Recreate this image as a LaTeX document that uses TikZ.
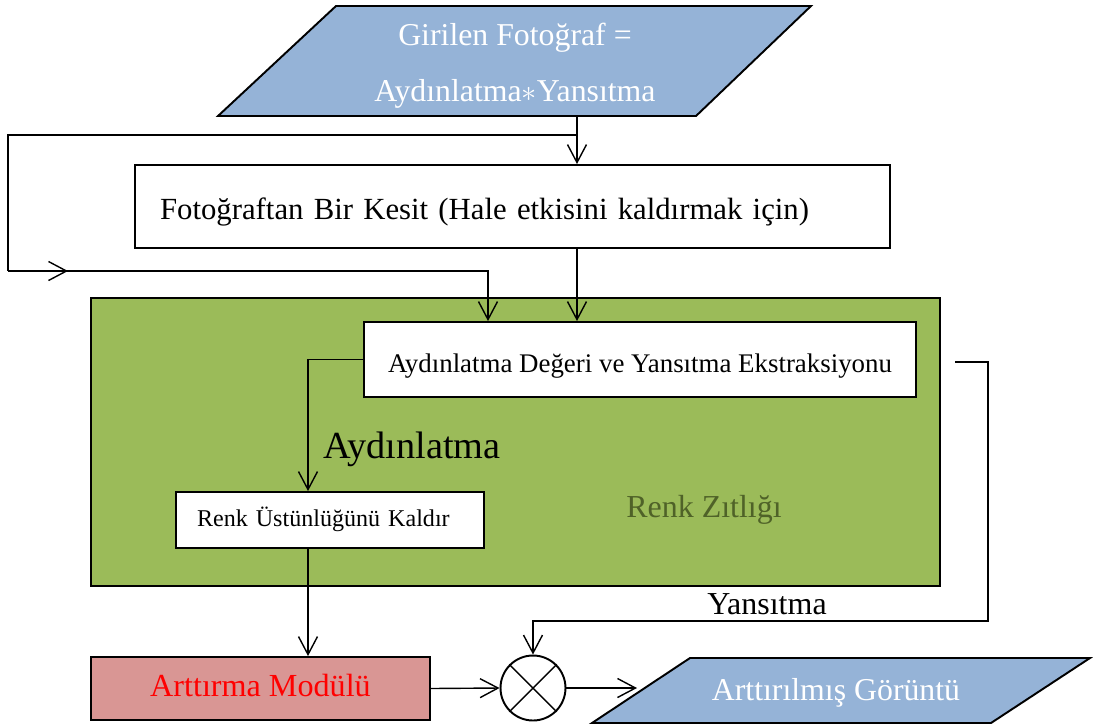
\documentclass[tikz,border=0pt]{standalone}
\usepackage{fontspec}
\setmainfont{Liberation Serif}
\usepackage{xcolor}
\usetikzlibrary{arrows.meta, positioning, shapes.geometric}
\definecolor{mavi}{HTML}{95B3D7}
\definecolor{yesil}{HTML}{9BBB59}
\definecolor{pembe}{HTML}{D99694}
\definecolor{koyuyesil}{HTML}{4F6228}
\tikzset{
  kutu/.style={draw, line width=1.1pt, fill=white, inner sep=0pt, text depth=0pt},
  veri/.style={draw, line width=1.1pt, fill=mavi},
  hat/.style={line width=0.8pt},
  ok/.style={hat, -{Straight Barb[length=3.6mm,width=3.8mm]}},
}

\begin{document}
\begin{tikzpicture}[x=0.02cm, y=-0.02cm]
\useasboundingbox (0,0) rectangle (1093,725);

% giris verisi
\draw[veri] (218,116) -- (336,6) -- (811,6) -- (696,116) -- cycle;
\node[text=white, align=center, font=\fontsize{18.1}{31.9}\selectfont] (giris) at (515,65.6)
{Girilen Fotoğraf =\\Aydınlatma$\ast$Yansıtma};
\coordinate (girisalt) at (577,116);
\coordinate (dal) at (577,135);
\coordinate (solust) at (8,135);
\coordinate (solalt) at (8,271);
\coordinate (giris2) at (488,271);

\node[kutu, minimum width=15.1cm, minimum height=1.66cm, text width=14.1cm, inner xsep=0.5cm,
  text height=0.5cm, align=left, font=\fontsize{17.5}{20}\selectfont] (kesit) at (512.5,206.5)
{Fotoğraftan Bir Kesit (Hale etkisini kaldırmak için)};

\node[draw, line width=1.4pt, fill=yesil, minimum width=16.98cm, minimum height=5.76cm] (zitlik) at (515.5,442) {};
\node[text=koyuyesil, anchor=base, font=\fontsize{18.2}{20}\selectfont] (zitlikad) at (704,517) {Renk Zıtlığı};

\node[kutu, minimum width=11.04cm, minimum height=1.5cm, text height=0.5cm, font=\fontsize{15.3}{17}\selectfont] (ekstr) at (640,359.5)
{Aydınlatma Değeri ve Yansıtma Ekstraksiyonu};
\node[kutu, minimum width=6.16cm, minimum height=1.12cm, text width=5.32cm, inner xsep=0.42cm, align=left,
  text height=0.24cm, font=\fontsize{13.7}{16}\selectfont] (renk) at (330,520)
{Renk Üstünlüğünü Kaldır};
\node[anchor=base, font=\fontsize{21.8}{24}\selectfont] (aydlbl) at (412,458) {Aydınlatma};

\node[kutu, fill=pembe, text=red, minimum width=6.78cm, minimum height=1.26cm, text height=0.3cm,
  font=\fontsize{18.3}{20}\selectfont] (arttirma) at (260.5,688.5)
{Arttırma Modülü};
\node[draw, circle, line width=1.1pt, minimum size=1.3cm, inner sep=0pt] (carp) at (533,688) {};
\draw[hat] (carp.north west) -- (carp.south east) (carp.north east) -- (carp.south west);

% cikis verisi
\draw[veri] (592,723) -- (690,658) -- (1090,658) -- (991,723) -- cycle;
\node[text=white, anchor=base, font=\fontsize{18.1}{20}\selectfont] (cikis) at (836,700) {Arttırılmış Görüntü};
\coordinate (cikisgir) at (637,688);

\coordinate (yansbas) at (955,362);
\coordinate (sagust) at (988,362);
\coordinate (sagalt) at (988,621);
\node[anchor=base, font=\fontsize{18.2}{22}\selectfont] (yanslbl) at (767,614) {Yansıtma};

% baglantilar
\draw[ok] (girisalt) -- (kesit.north -| girisalt);
\draw[hat] (dal) -- (solust) -- (solalt);
\draw[ok] (solalt) -- ++(60,0);
\draw[ok] (solalt) -- (giris2) -- (ekstr.north -| giris2);
\draw[ok] (kesit.south -| dal) -- (ekstr.north -| dal);
\coordinate (aydx) at ([xshift=-0.44cm]renk.north);
\draw[ok] (ekstr.west) -| (aydx);
\draw[ok] (renk.south -| aydx) -- (arttirma.north -| aydx);
\draw[ok] (yansbas) -- (sagust) -- (sagalt) -| (carp.north);
\draw[ok] (arttirma.east) -- (carp.west);
\draw[ok] (carp.east) -- (cikisgir);
\end{tikzpicture}
\end{document}
